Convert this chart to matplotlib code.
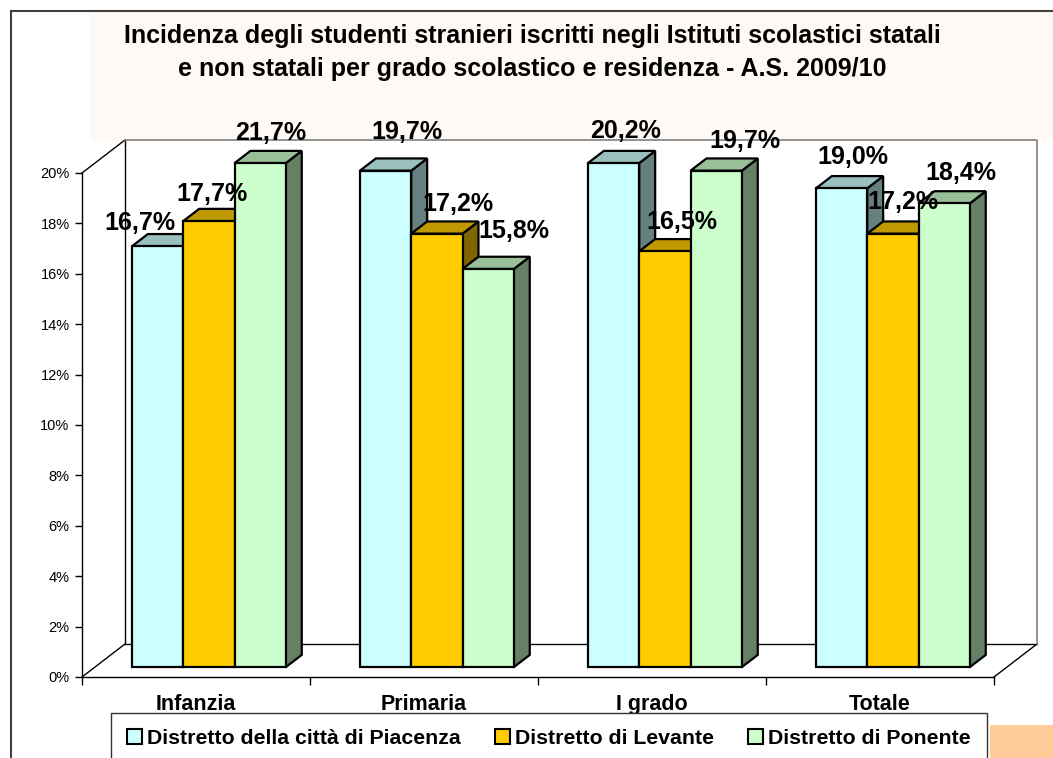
import matplotlib.pyplot as plt
from matplotlib.patches import Polygon, Rectangle, Patch
from matplotlib.lines import Line2D

plt.rcParams['font.family'] = ['Liberation Sans', 'DejaVu Sans']

categorie = ['Infanzia', 'Primaria', 'I grado', 'Totale']
serie = ['Distretto della città di Piacenza', 'Distretto di Levante', 'Distretto di Ponente']
piacenza = [16.7, 19.7, 20.2, 19.0]
levante = [17.7, 17.2, 16.5, 17.2]
ponente = [21.7, 15.8, 19.7, 18.4]
y_ticks = [0, 2, 4, 6, 8, 10, 12, 14, 16, 18, 20]

# front / top / side colours for each series
colori = [('#CCFFFF', '#99BFBF', '#668080'),
          ('#FFCC00', '#BF9900', '#806600'),
          ('#CCFFCC', '#99BF99', '#668066')]

# label nudges in pixels (dx, dy) from the top centre of the front face
spost = [[(-18, 16), (21, 32), (12, 25), (11, 24)],
         [(3, 20), (21, 23), (17, 22), (10, 25)],
         [(10, 23), (26, 31), (29, 23), (17, 23)]]

W, H = 1053, 758
fig = plt.figure(figsize=(W / 100, H / 100), dpi=100)
fig.patch.set_facecolor('white')

# chart area decorations
fig.add_artist(Rectangle((90 / W, (H - 141) / H), (W - 90) / W, 130 / H,
                         transform=fig.transFigure, facecolor='#FFF9F5',
                         edgecolor='none', zorder=0))
fig.add_artist(Rectangle((990 / W, 0), 63 / W, 33 / H,
                         transform=fig.transFigure, facecolor='#FFCC99',
                         edgecolor='none', zorder=0))
fig.add_artist(Line2D([11 / W, 1], [(H - 11) / H, (H - 11) / H],
                      transform=fig.transFigure, color='#404040', lw=1.5))
fig.add_artist(Line2D([11 / W, 11 / W], [0, (H - 11) / H],
                      transform=fig.transFigure, color='#404040', lw=1.5))

fig.text(532 / W, (H - 43) / H,
         'Incidenza degli studenti stranieri iscritti negli Istituti scolastici statali',
         ha='center', va='baseline', fontsize=18, fontweight='bold')
fig.text(532 / W, (H - 76) / H,
         'e non statali per grado scolastico e residenza - A.S. 2009/10',
         ha='center', va='baseline', fontsize=18, fontweight='bold')

ax = fig.add_axes([82 / W, (H - 677) / H, (994 - 82) / W, (677 - 173) / H])
ax.set_xlim(-0.5, 3.5)
ax.set_ylim(0, 20)
ax.set_facecolor('none')
ymax = 20

# depth of the box and of the bars, in data units
dx = 43 / 228
dy = 33 / 25.2
fdx, fdy = 0.3 * dx, 0.3 * dy
bdx, bdy = 0.37 * dx, 0.37 * dy

# walls and floor
x0, x1 = -0.5, 3.5
ax.plot([x0, x0 + dx], [ymax, ymax + dy], color='black', lw=1, clip_on=False, zorder=1)
ax.plot([x0, x0 + dx], [0, dy], color='black', lw=1, clip_on=False, zorder=1)
ax.plot([x0 + dx, x0 + dx], [dy, ymax + dy], color='black', lw=1, clip_on=False, zorder=1)
ax.plot([x0 + dx, x1 + dx], [dy, dy], color='black', lw=1, clip_on=False, zorder=1)
ax.plot([x1, x1 + dx], [0, dy], color='black', lw=1, clip_on=False, zorder=1)
ax.plot([x0 + dx, x1 + dx, x1 + dx], [ymax + dy, ymax + dy, dy],
        color='#808080', lw=1.2, clip_on=False, zorder=1)

larg = 0.225
valori = [piacenza, levante, ponente]
z = 3
for j in range(len(categorie)):
    for i, vals in enumerate(valori):
        v = vals[j]
        h = min(v, ymax)
        fr, tp, sd = colori[i]
        xl = j - 1.5 * larg + i * larg + fdx
        b = fdy
        side = Polygon([(xl + larg, b), (xl + larg + bdx, b + bdy),
                        (xl + larg + bdx, b + h + bdy), (xl + larg, b + h)],
                       closed=True, facecolor=sd, edgecolor='black', lw=1.6,
                       joinstyle='miter', zorder=z, clip_on=False)
        top = Polygon([(xl, b + h), (xl + larg, b + h),
                       (xl + larg + bdx, b + h + bdy), (xl + bdx, b + h + bdy)],
                      closed=True, facecolor=tp, edgecolor='black', lw=1.6,
                      joinstyle='miter', zorder=z, clip_on=False)
        ax.add_patch(side)
        ax.add_patch(top)
        ax.bar(xl, h, width=larg, bottom=b, align='edge', color=fr,
               edgecolor='black', linewidth=1.6, zorder=z + 0.5, clip_on=False)
        ax.annotate(f'{v:.1f}%'.replace('.', ','), (xl + larg / 2, b + h),
                    xytext=spost[i][j], textcoords='offset pixels',
                    ha='center', va='baseline', fontsize=18, fontweight='bold',
                    zorder=20, annotation_clip=False)
        z += 1

for s in ['top', 'right']:
    ax.spines[s].set_visible(False)
for s in ['left', 'bottom']:
    ax.spines[s].set_linewidth(1)
    ax.spines[s].set_zorder(2)

ax.set_yticks(y_ticks)
ax.set_yticklabels([f'{t}%' for t in y_ticks])
ax.tick_params(axis='y', length=5, width=1, pad=4, labelsize=10.5)
ax.set_xticks(range(len(categorie)))
ax.set_xticklabels(categorie, fontweight='bold')
ax.set_xticks([k - 0.5 for k in range(len(categorie) + 1)], minor=True)
ax.tick_params(axis='x', which='major', length=0, pad=12, labelsize=15.5)
ax.tick_params(axis='x', which='minor', length=6, width=1)

handles = [Patch(facecolor=c[0], edgecolor='black', linewidth=1.5) for c in colori]
leg = ax.legend(handles, serie, loc='upper left',
                bbox_to_anchor=(111 / W, (H - 713) / H), bbox_transform=fig.transFigure,
                ncol=3, prop={'weight': 'bold', 'size': 15.3},
                handlelength=0.7, handleheight=0.7, handletextpad=0.25,
                columnspacing=1.6, borderaxespad=0, borderpad=0.75,
                frameon=True, fancybox=False, framealpha=1, edgecolor='#333333')
leg.get_frame().set_linewidth(1)
leg.set_zorder(30)

fig.savefig('out.png', dpi=100)
